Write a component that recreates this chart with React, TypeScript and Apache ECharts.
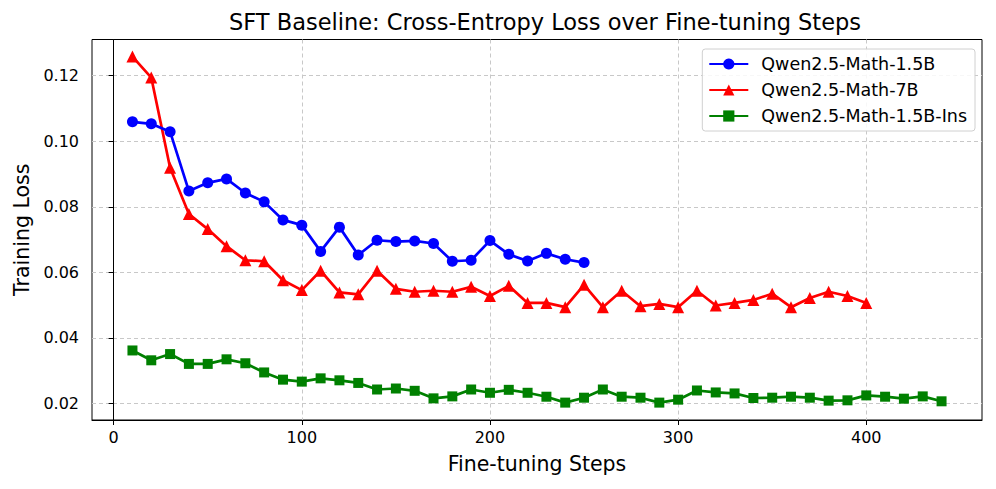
import React, { useEffect, useRef } from "react";
import * as echarts from "echarts";

const stepsBlue = [10, 20, 30, 40, 50, 60, 70, 80, 90, 100, 110, 120, 130, 140, 150, 160, 170, 180, 190, 200, 210, 220, 230, 240, 250];
const lossBlue = [0.1059, 0.1053, 0.1029, 0.0848, 0.0873, 0.0885, 0.0842, 0.0815, 0.0760, 0.0744, 0.0664, 0.0738, 0.0653, 0.0698, 0.0694, 0.0696, 0.0688, 0.0634, 0.0637, 0.0697, 0.0655, 0.0635, 0.0658, 0.0640, 0.0630];

const stepsRed = [10, 20, 30, 40, 50, 60, 70, 80, 90, 100, 110, 120, 130, 140, 150, 160, 170, 180, 190, 200, 210, 220, 230, 240, 250, 260, 270, 280, 290, 300, 310, 320, 330, 340, 350, 360, 370, 380, 390, 400];
const lossRed = [0.1258, 0.1194, 0.0919, 0.0778, 0.0732, 0.0680, 0.0637, 0.0634, 0.0576, 0.0546, 0.0605, 0.0539, 0.0533, 0.0605, 0.0550, 0.0541, 0.0544, 0.0541, 0.0556, 0.0528, 0.0559, 0.0507, 0.0507, 0.0494, 0.0562, 0.0494, 0.0544, 0.0497, 0.0504, 0.0494, 0.0544, 0.0499, 0.0507, 0.0516, 0.0535, 0.0494, 0.0522, 0.0541, 0.0528, 0.0507];

const stepsGreen = [10, 20, 30, 40, 50, 60, 70, 80, 90, 100, 110, 120, 130, 140, 150, 160, 170, 180, 190, 200, 210, 220, 230, 240, 250, 260, 270, 280, 290, 300, 310, 320, 330, 340, 350, 360, 370, 380, 390, 400, 410, 420, 430, 440];
const lossGreen = [0.0362, 0.0332, 0.0351, 0.0321, 0.0321, 0.0335, 0.0323, 0.0295, 0.0273, 0.0267, 0.0277, 0.0271, 0.0263, 0.0243, 0.0246, 0.0239, 0.0216, 0.0222, 0.0243, 0.0233, 0.0242, 0.0233, 0.0221, 0.0203, 0.0218, 0.0243, 0.0221, 0.0218, 0.0203, 0.0212, 0.0240, 0.0234, 0.0231, 0.0217, 0.0218, 0.0221, 0.0218, 0.0209, 0.0210, 0.0225, 0.0221, 0.0215, 0.0222, 0.0207];

const xTicks = [0, 100, 200, 300, 400];
const yTicks = [0.02, 0.04, 0.06, 0.08, 0.10, 0.12];

const seriesNames = ["Qwen2.5-Math-1.5B", "Qwen2.5-Math-7B", "Qwen2.5-Math-1.5B-Ins"];

const FONT = "DejaVu Sans";

export default function App() {
  const ref = useRef<HTMLDivElement>(null);
  useEffect(() => {
    if (!ref.current) return;
    const chart = echarts.init(ref.current, null, { renderer: "svg" });
    const pairs = (xs: number[], ys: number[]) => xs.map((x, i) => [x, ys[i]]);
    const splitLine = { show: true, lineStyle: { color: "#c8c8c8", type: [4, 3], width: 1 } };
    chart.setOption({
      animation: false,
      textStyle: { fontFamily: FONT },
      title: {
        text: "SFT Baseline: Cross-Entropy Loss over Fine-tuning Steps",
        left: 540,
        textAlign: "center",
        top: 5,
        textStyle: { fontFamily: FONT, fontSize: 22.5, fontWeight: "normal", color: "#000" },
      },
      grid: {
        left: 92,
        right: 14,
        top: 39.5,
        bottom: 69,
        show: true,
        borderColor: "#000",
        borderWidth: 1,
        containLabel: false,
      },
      legend: {
        orient: "vertical",
        right: 21,
        top: 49,
        padding: [6, 8, 6, 6],
        itemWidth: 39,
        itemHeight: 14,
        itemGap: 8,
        borderColor: "#d0d0d0",
        borderWidth: 1,
        borderRadius: 3,
        backgroundColor: "rgba(255,255,255,0.85)",
        textStyle: { fontFamily: FONT, fontSize: 17.5, color: "#000", padding: [0, 0, 0, 8] },
        data: seriesNames,
      },
      xAxis: {
        type: "value",
        min: -11.5,
        max: 461.5,
        name: "Fine-tuning Steps",
        nameLocation: "middle",
        nameGap: 33,
        nameTextStyle: { fontFamily: FONT, fontSize: 20.5, color: "#000" },
        axisLine: { show: true, lineStyle: { color: "#000", width: 1 } },
        axisTick: { show: true, length: 5, lineStyle: { color: "#000" }, customValues: xTicks },
        axisLabel: { color: "#000", fontSize: 16, fontFamily: FONT, margin: 9, customValues: xTicks },
        splitLine,
      },
      yAxis: {
        type: "value",
        min: 0.015,
        max: 0.131,
        name: "Training Loss",
        nameLocation: "middle",
        nameGap: 58,
        nameTextStyle: { fontFamily: FONT, fontSize: 20.5, color: "#000" },
        axisLine: { show: true, lineStyle: { color: "#000", width: 1 } },
        axisTick: { show: true, length: 5, lineStyle: { color: "#000" }, customValues: yTicks },
        axisLabel: {
          color: "#000",
          fontSize: 16,
          fontFamily: FONT,
          margin: 13,
          customValues: yTicks,
          formatter: (v: number) => v.toFixed(2),
        },
        splitLine,
      },
      series: [
        {
          name: seriesNames[0],
          type: "line",
          data: pairs(stepsBlue, lossBlue),
          symbol: "circle",
          symbolSize: 11,
          lineStyle: { color: "#0000ff", width: 2.7 },
          itemStyle: { color: "#0000ff" },
          z: 3,
        },
        {
          name: seriesNames[1],
          type: "line",
          data: pairs(stepsRed, lossRed),
          symbol: "triangle",
          symbolSize: 12,
          lineStyle: { color: "#ff0000", width: 2.7 },
          itemStyle: { color: "#ff0000" },
          z: 2,
        },
        {
          name: seriesNames[2],
          type: "line",
          data: pairs(stepsGreen, lossGreen),
          symbol: "rect",
          symbolSize: 10,
          lineStyle: { color: "#008000", width: 2.7 },
          itemStyle: { color: "#008000" },
          z: 1,
        },
      ],
    });
    return () => chart.dispose();
  }, []);
  return (
    <div
      ref={ref}
      style={{ position: "fixed", left: 0, top: 0, width: 996, height: 489, background: "#fff" }}
    />
  );
}
